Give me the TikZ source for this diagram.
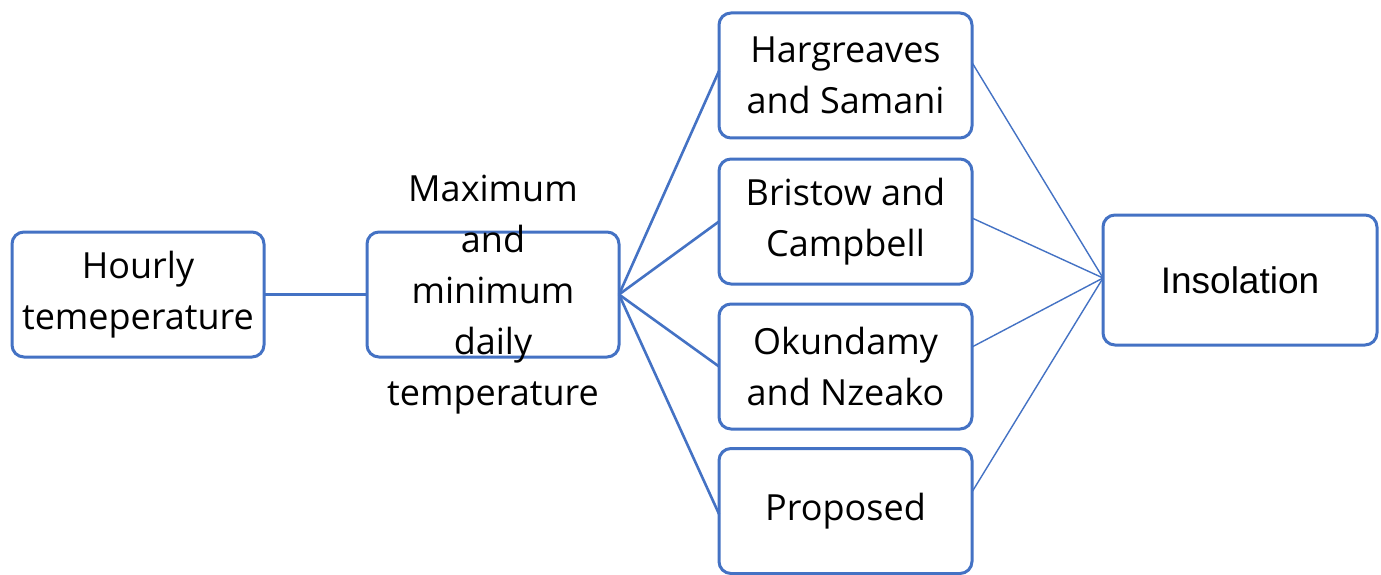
\documentclass[tikz,border=0pt]{standalone}
\usepackage{fontspec}
\setmainfont{Open Sans}
\newfontfamily\arialfont{Liberation Sans}
\definecolor{boxblue}{HTML}{4472C4}
\begin{document}
\begin{tikzpicture}[x=1pt,y=-1pt,
  box/.style={draw=boxblue,line width=3pt,rounded corners=12pt,fill=white,
    minimum width=#1,minimum height=125pt,inner sep=0pt,outer sep=0pt},
  box/.default=252pt,
  txt/.style={align=center,font=\fontsize{36}{51}\selectfont,inner sep=0pt},
  conA/.style={draw=boxblue,line width=2.6pt},
  conB/.style={draw=boxblue,line width=1.4pt}]
\useasboundingbox[fill=white] (0,0) rectangle (1381,575);
\node[box] (hr) at (138,294.5) {};
\node[txt] at (hr) {Hourly\\temeperature};
\node[box] (mm) at (493,294.5) {};
\node[box=253pt] (hs) at (845.5,75.5) {};
\node[txt] at (hs) {Hargreaves\\and Samani};
\node[box=253pt] (bc) at (845.5,221.5) {};
\node[txt] at (bc) {Bristow and\\Campbell};
\node[box=253pt] (on) at (845.5,366.5) {};
\node[txt] at (on) {Okundamy\\and Nzeako};
\node[box=253pt] (pr) at (845.5,511) {};
\node[txt] at (pr) {Proposed};
\node[box=274pt,minimum height=130pt] (in) at (1240,280) {};
\node[font=\arialfont\fontsize{37}{44}\selectfont,inner sep=0pt] at (in) {Insolation};
\draw[conA] (hr.east) -- (mm.west);
\draw[conA] (mm.east) -- ([yshift=4.5pt]hs.west);
\draw[conA] (mm.east) -- (bc.west);
\draw[conA] (mm.east) -- (on.west);
\draw[conA] (mm.east) -- ([yshift=-3pt]pr.west);
\draw[conB] ([yshift=13pt]hs.east) -- ([yshift=2pt]in.west);
\draw[conB] ([yshift=3.5pt]bc.east) -- ([yshift=2pt]in.west);
\draw[conB] ([yshift=19.5pt]on.east) -- ([yshift=2pt]in.west);
\draw[conB] ([yshift=19pt]pr.east) -- ([yshift=2pt]in.west);
\node[txt] at (mm) {Maximum\\and\\minimum\\daily\\temperature};
\end{tikzpicture}
\end{document}
